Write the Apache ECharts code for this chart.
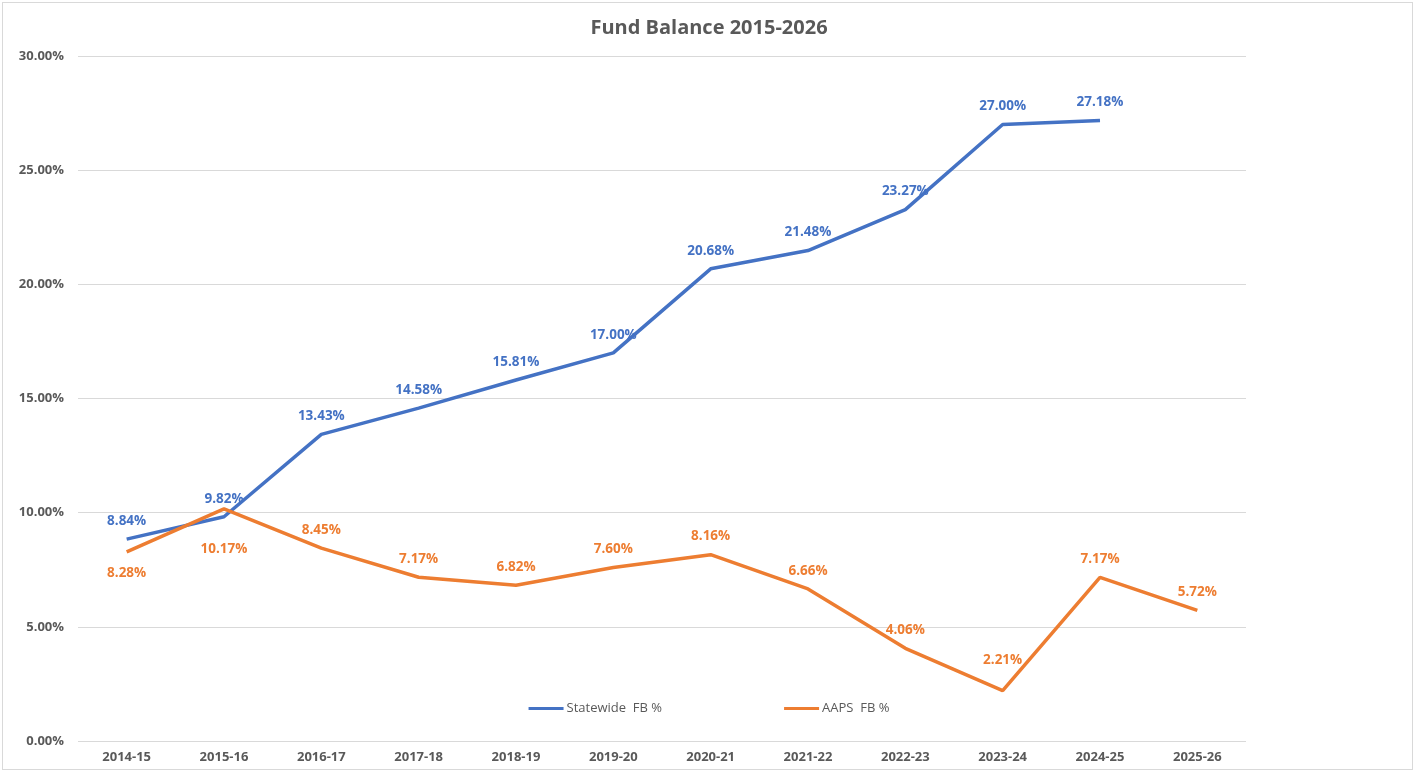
<!DOCTYPE html>
<html>
<head>
<meta charset="utf-8">
<script src="https://cdn.jsdelivr.net/npm/echarts@6/dist/echarts.min.js"></script>
<style>
  html, body { margin: 0; padding: 0; background: #fff; }
  #frame {
    position: absolute; left: 2px; top: 2px; width: 1411px; height: 768px;
    border: 1px solid #d9d9d9; box-sizing: border-box;
  }
  #chart { position: absolute; left: 0; top: 0; width: 1418px; height: 774px; }
</style>
</head>
<body>
<div id="frame"></div>
<div id="chart"></div>
<script>
const years = ['2014-15', '2015-16', '2016-17', '2017-18', '2018-19', '2019-20',
  '2020-21', '2021-22', '2022-23', '2023-24', '2024-25', '2025-26']
const statewide = [8.84, 9.82, 13.43, 14.58, 15.81, 17.00, 20.68, 21.48, 23.27, 27.00, 27.18, null]
const aaps = [8.28, 10.17, 8.45, 7.17, 6.82, 7.60, 8.16, 6.66, 4.06, 2.21, 7.17, 5.72]
// where each orange label sits relative to its point
const aapsLabelPos = ['bottom', 'bottom', 'top', 'top', 'top', 'top', 'top', 'top', 'top', 'top', 'top', 'top']
const aapsLabelDist = [14, 33, 11, 11, 11, 11, 11, 11, 11, 23, 11, 11]

const font = '"Open Sans", "Noto Sans", sans-serif'
const grey = '#595959'
const blue = '#4472C4'
const orange = '#ED7D31'

const chart = echarts.init(document.getElementById('chart'))

function pct(v) { return v.toFixed(2) + '%' }

chart.setOption({
  backgroundColor: 'transparent',
  animation: false,
  title: {
    text: 'Fund Balance 2015-2026',
    left: 'center',
    top: 13,
    textStyle: { color: grey, fontSize: 20, fontWeight: 'bold', fontFamily: font }
  },
  legend: {
    top: 697,
    left: 'center',
    icon: 'rect',
    itemWidth: 35,
    itemHeight: 3,
    itemGap: 122,
    textStyle: { color: grey, fontSize: 13, fontFamily: font, padding: [0, 0, 0, -2] },
    data: ['Statewide  FB %', 'AAPS  FB %']
  },
  grid: { left: 78, right: 172, top: 56, bottom: 33 },
  xAxis: {
    type: 'category',
    data: years,
    boundaryGap: true,
    axisLine: { show: false },
    axisTick: { show: false },
    axisLabel: { color: grey, fontSize: 13, fontWeight: 'bold', fontFamily: font, margin: 10 }
  },
  yAxis: {
    type: 'value',
    min: 0,
    max: 30,
    interval: 5,
    axisLine: { show: false },
    axisTick: { show: false },
    splitLine: { lineStyle: { color: '#d9d9d9', width: 1 } },
    axisLabel: {
      color: grey, fontSize: 13, fontWeight: 'bold', fontFamily: font, margin: 14,
      formatter: v => v.toFixed(2) + '%'
    }
  },
  series: [
    {
      name: 'Statewide  FB %',
      type: 'line',
      data: statewide,
      symbol: 'circle',
      symbolSize: 0.1,
      showSymbol: true,
      lineStyle: { color: blue, width: 3.5 },
      itemStyle: { color: blue },
      label: {
        show: true, position: 'top', distance: 11,
        color: blue, fontSize: 13.5, fontWeight: 'bold', fontFamily: font,
        formatter: p => pct(p.value)
      },
      z: 3
    },
    {
      name: 'AAPS  FB %',
      type: 'line',
      data: aaps.map((v, i) => ({
        value: v,
        label: { position: aapsLabelPos[i], distance: aapsLabelDist[i] }
      })),
      symbol: 'circle',
      symbolSize: 0.1,
      showSymbol: true,
      lineStyle: { color: orange, width: 3.5 },
      itemStyle: { color: orange },
      label: {
        show: true,
        color: orange, fontSize: 13.5, fontWeight: 'bold', fontFamily: font,
        formatter: p => pct(p.value)
      },
      z: 4
    }
  ]
})
</script>
</body>
</html>
